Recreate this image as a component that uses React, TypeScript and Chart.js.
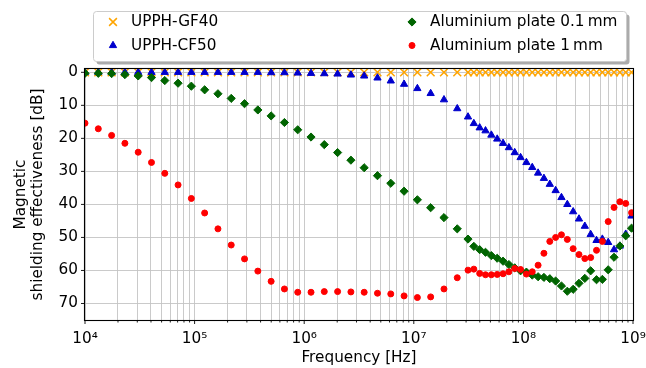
import React, { useEffect, useRef } from 'react';
import { Chart, registerables } from 'chart.js';

Chart.register(...registerables);

// Frequencies in Hz (sparse sweep 10 kHz – 25 MHz, then dense sweep 30 MHz – 1 GHz)
const frequencies = [
  1.000e4, 1.322e4, 1.749e4, 2.312e4, 3.057e4, 4.043e4, 5.345e4, 7.067e4, 9.342e4,
  1.235e5, 1.633e5, 2.159e5, 2.855e5, 3.776e5, 4.993e5, 6.602e5, 8.727e5,
  1.154e6, 1.525e6, 2.017e6, 2.667e6, 3.526e6, 4.662e6, 6.166e6, 8.153e6,
  1.078e7, 1.425e7, 1.885e7, 2.492e7,
  3.123e7, 3.530e7, 3.991e7, 4.512e7, 5.101e7, 5.768e7, 6.521e7, 7.372e7, 8.335e7, 9.423e7,
  1.065e8, 1.204e8, 1.362e8, 1.539e8, 1.741e8, 1.968e8, 2.225e8, 2.515e8, 2.844e8, 3.215e8,
  3.635e8, 4.110e8, 4.646e8, 5.253e8, 5.939e8, 6.714e8, 7.591e8, 8.582e8, 9.703e8,
];

// Shielding effectiveness in dB
const upphGf40 = [
  0, 0, 0, 0, 0, 0, 0, 0, 0, 0, 0, 0, 0, 0, 0, 0, 0, 0, 0, 0, 0, 0, 0, 0, 0, 0, 0, 0, 0,
  0, 0, 0, 0, 0, 0, 0, 0, 0, 0, 0, 0, 0, 0, 0, 0, 0, 0, 0, 0, 0, 0, 0, 0, 0, 0, 0, 0, 0,
];
const upphCf50 = [
  0, 0, 0, 0, 0, 0, 0, 0, 0, 0, 0, 0, 0, 0, 0.1, 0.1, 0.2, 0.3, 0.4, 0.5, 0.8, 1.1, 1.7, 2.6, 3.6,
  4.9, 6.4, 8.3, 11.0,
  13.5, 15.5, 16.8, 17.7, 19.0, 20.2, 21.5, 22.8, 24.3, 25.8, 27.3, 28.8, 30.5, 32.1, 33.9,
  35.8, 37.9, 40.0, 42.2, 44.4, 46.6, 49.1, 50.9, 50.5, 51.5, 53.7, 52.6, 49.0, 43.5,
];
const aluminium01 = [
  0.3, 0.3, 0.4, 0.7, 1.1, 1.6, 2.5, 3.3, 4.2, 5.3, 6.5, 7.9, 9.5, 11.4, 13.2, 15.2, 17.4,
  19.6, 21.9, 24.3, 26.6, 28.9, 31.3, 33.6, 36.0, 38.6, 41.0, 44.0, 47.4,
  50.5, 52.7, 53.7, 54.5, 55.5, 56.3, 57.2, 58.2, 59.2, 60.1, 60.5, 61.4, 61.9, 62.1, 62.5,
  63.2, 64.7, 66.3, 65.7, 63.9, 62.4, 60.1, 62.8, 62.7, 59.8, 56.0, 52.6, 49.5, 47.2,
];
const aluminium1 = [
  15.4, 17.1, 19.1, 21.5, 24.2, 27.3, 30.6, 34.1, 38.2, 42.6, 47.4, 52.3, 56.5, 60.2, 63.3,
  65.6, 66.6, 66.6, 66.4, 66.4, 66.5, 66.6, 66.9, 67.1, 67.7, 68.2, 68.0, 65.6, 62.2,
  59.9, 59.6, 60.9, 61.3, 61.3, 61.2, 61.0, 60.4, 59.4, 59.7, 61.1, 60.4, 58.4, 54.8, 51.2,
  50.0, 49.2, 50.6, 53.4, 55.2, 56.4, 56.1, 53.9, 51.2, 45.2, 40.9, 39.2, 39.7, 42.5,
];

const seriesNames = ['UPPH-GF40', 'UPPH-CF50', 'Aluminium plate 0.1\u2009mm', 'Aluminium plate 1\u2009mm'];
const xDecades = [1e4, 1e5, 1e6, 1e7, 1e8, 1e9];
const xTickLabels = ['10⁴', '10⁵', '10⁶', '10⁷', '10⁸', '10⁹'];
const yTickValues = [0, 10, 20, 30, 40, 50, 60, 70];
const xTitle = 'Frequency [Hz]';
const yTitle = ['Magnetic', 'shielding effectiveness [dB]'];

const FONT = 'DejaVu Sans';
const FS = 15.28;
const COLORS = ['#FFA500', '#0000CD', '#006400', '#FF0000'];
const STYLES = ['crossRot', 'triangle', 'rectRot', 'circle'];
const RADII = [5.5, 4.2, 4.1, 3];
const BORDERS = [1.5, 1, 1, 1];

function minorTicks(): number[] {
  const out: number[] = [];
  for (let d = 0; d < xDecades.length - 1; d++) {
    for (let m = 1; m <= 9; m++) out.push(xDecades[d] * m);
  }
  out.push(xDecades[xDecades.length - 1]);
  return out;
}

function decadeIndex(v: number): number {
  for (let i = 0; i < xDecades.length; i++) {
    if (Math.abs(v / xDecades[i] - 1) < 1e-6) return i;
  }
  return -1;
}

function drawMarker(ctx: CanvasRenderingContext2D, style: string, x: number, y: number, r: number, color: string, bw: number) {
  ctx.save();
  ctx.fillStyle = color;
  ctx.strokeStyle = color;
  ctx.lineWidth = bw;
  ctx.beginPath();
  if (style === 'crossRot') {
    const o = r * Math.SQRT1_2;
    ctx.moveTo(x - o, y - o); ctx.lineTo(x + o, y + o);
    ctx.moveTo(x - o, y + o); ctx.lineTo(x + o, y - o);
    ctx.stroke();
  } else if (style === 'triangle') {
    for (let i = 0; i < 3; i++) {
      const a = (i * 2 * Math.PI) / 3;
      const px = x + Math.sin(a) * r, py = y - Math.cos(a) * r;
      if (i === 0) ctx.moveTo(px, py); else ctx.lineTo(px, py);
    }
    ctx.closePath(); ctx.fill(); ctx.stroke();
  } else if (style === 'rectRot') {
    ctx.moveTo(x, y - r); ctx.lineTo(x + r, y); ctx.lineTo(x, y + r); ctx.lineTo(x - r, y);
    ctx.closePath(); ctx.fill(); ctx.stroke();
  } else {
    ctx.arc(x, y, r, 0, Math.PI * 2);
    ctx.fill(); ctx.stroke();
  }
  ctx.restore();
}

function roundRectPath(ctx: CanvasRenderingContext2D, x: number, y: number, w: number, h: number, r: number) {
  ctx.beginPath();
  ctx.moveTo(x + r, y);
  ctx.lineTo(x + w - r, y);
  ctx.arcTo(x + w, y, x + w, y + r, r);
  ctx.lineTo(x + w, y + h - r);
  ctx.arcTo(x + w, y + h, x + w - r, y + h, r);
  ctx.lineTo(x + r, y + h);
  ctx.arcTo(x, y + h, x, y + h - r, r);
  ctx.lineTo(x, y + r);
  ctx.arcTo(x, y, x + r, y, r);
  ctx.closePath();
}

const decorPlugin = {
  id: 'decor',
  afterDatasetsDraw(chart: any) {
    const { ctx, chartArea: a, scales } = chart;
    ctx.save();
    ctx.strokeStyle = '#000';
    ctx.lineWidth = 0.9;
    const xs = scales.x;
    const bottom = Math.round(a.bottom) + 0.5;
    for (const v of minorTicks()) {
      const px = xs.getPixelForValue(v);
      const len = decadeIndex(v) >= 0 ? 3.5 : 2;
      ctx.beginPath();
      ctx.moveTo(px, bottom);
      ctx.lineTo(px, bottom + len);
      ctx.stroke();
    }
    const ys = scales.y;
    const left = Math.round(a.left) - 0.5;
    for (const v of yTickValues) {
      const py = ys.getPixelForValue(v);
      ctx.beginPath();
      ctx.moveTo(left, py);
      ctx.lineTo(left - 3.5, py);
      ctx.stroke();
    }
    ctx.lineWidth = 1.1;
    ctx.strokeRect(Math.round(a.left) - 0.5, Math.round(a.top) - 0.5, Math.round(a.right) - Math.round(a.left) + 1, Math.round(a.bottom) - Math.round(a.top) + 1);
    ctx.restore();
  },
  afterDraw(chart: any) {
    const ctx: CanvasRenderingContext2D = chart.ctx;
    ctx.save();
    const bx = 93.5, by = 11.5, bw = 533, bh = 50;
    ctx.fillStyle = 'rgba(0,0,0,0.33)';
    roundRectPath(ctx, bx + 3, by + 3, bw, bh, 3);
    ctx.fill();
    ctx.fillStyle = '#fff';
    roundRectPath(ctx, bx, by, bw, bh, 3);
    ctx.fill();
    ctx.strokeStyle = '#cccccc';
    ctx.lineWidth = 1;
    ctx.stroke();
    const cols = [113, 412];
    const rows = [22, 45.5];
    ctx.font = `${FS}px "${FONT}"`;
    ctx.textBaseline = 'middle';
    ctx.textAlign = 'left';
    for (let i = 0; i < seriesNames.length; i++) {
      const cx = cols[Math.floor(i / 2)];
      const cy = rows[i % 2];
      drawMarker(ctx, STYLES[i], cx, cy, RADII[i], COLORS[i], BORDERS[i]);
      ctx.fillStyle = '#000';
      ctx.fillText(seriesNames[i], cx + 18, cy + 0.5);
    }
    ctx.restore();
  },
};

export default function App() {
  const ref = useRef<HTMLCanvasElement>(null);
  useEffect(() => {
    const canvas = ref.current;
    if (!canvas) return;
    const seriesValues = [upphGf40, upphCf50, aluminium01, aluminium1];
    const datasets = seriesValues.map((vals, i) => ({
      label: seriesNames[i],
      data: frequencies.map((f, j) => ({ x: f, y: vals[j] })),
      showLine: false,
      pointStyle: STYLES[i],
      pointRadius: RADII[i],
      pointHoverRadius: RADII[i],
      pointBorderWidth: BORDERS[i],
      backgroundColor: COLORS[i],
      borderColor: COLORS[i],
      order: 4 - i,
      clip: 0,
    }));
    const chart = new Chart(canvas, {
      type: 'scatter',
      data: { datasets },
      plugins: [decorPlugin],
      options: {
        responsive: false,
        devicePixelRatio: 1,
        animation: false,
        events: [],
        layout: { padding: { top: 69, right: 13, left: 0, bottom: 0 } },
        plugins: { legend: { display: false }, tooltip: { enabled: false }, title: { display: false } },
        scales: {
          x: {
            type: 'logarithmic',
            min: 1e4,
            max: 1e9,
            afterBuildTicks: (scale: any) => {
              scale.ticks = minorTicks().map((v) => ({ value: v, major: decadeIndex(v) >= 0 }));
            },
            afterFit: (scale: any) => {
              scale.height = 48;
              scale.paddingLeft = 0;
              scale.paddingRight = 0;
            },
            grid: { color: '#c4c4c4', lineWidth: 0.9, drawTicks: false },
            border: { display: false },
            ticks: {
              autoSkip: false,
              maxRotation: 0,
              minRotation: 0,
              padding: 10,
              color: '#000',
              font: { family: FONT, size: FS },
              callback: (value: any) => {
                const i = decadeIndex(Number(value));
                return i >= 0 ? xTickLabels[i] : '';
              },
            },
            title: {
              display: true,
              text: xTitle,
              color: '#000',
              font: { family: FONT, size: FS },
              padding: { top: 0, bottom: 1 },
            },
          },
          y: {
            type: 'linear',
            reverse: true,
            min: -1,
            max: 75,
            afterBuildTicks: (scale: any) => {
              scale.ticks = yTickValues.map((v) => ({ value: v }));
            },
            afterFit: (scale: any) => {
              scale.width = 85;
              scale.paddingTop = 0;
              scale.paddingBottom = 0;
            },
            grid: { color: '#c4c4c4', lineWidth: 0.9, drawTicks: false },
            border: { display: false },
            ticks: {
              padding: 7,
              color: '#000',
              font: { family: FONT, size: FS },
              callback: (value: any) => String(value),
            },
            title: {
              display: true,
              text: yTitle,
              color: '#000',
              font: { family: FONT, size: FS, lineHeight: 1.12 },
              padding: { top: 12, bottom: 0 },
            },
          },
        },
      } as any,
    } as any);
    return () => chart.destroy();
  }, []);
  return (
    <div style={{ position: 'absolute', left: 0, top: 0, width: 646, height: 368, background: '#fff' }}>
      <canvas ref={ref} width={646} height={368} style={{ display: 'block', width: 646, height: 368 }} />
    </div>
  );
}
